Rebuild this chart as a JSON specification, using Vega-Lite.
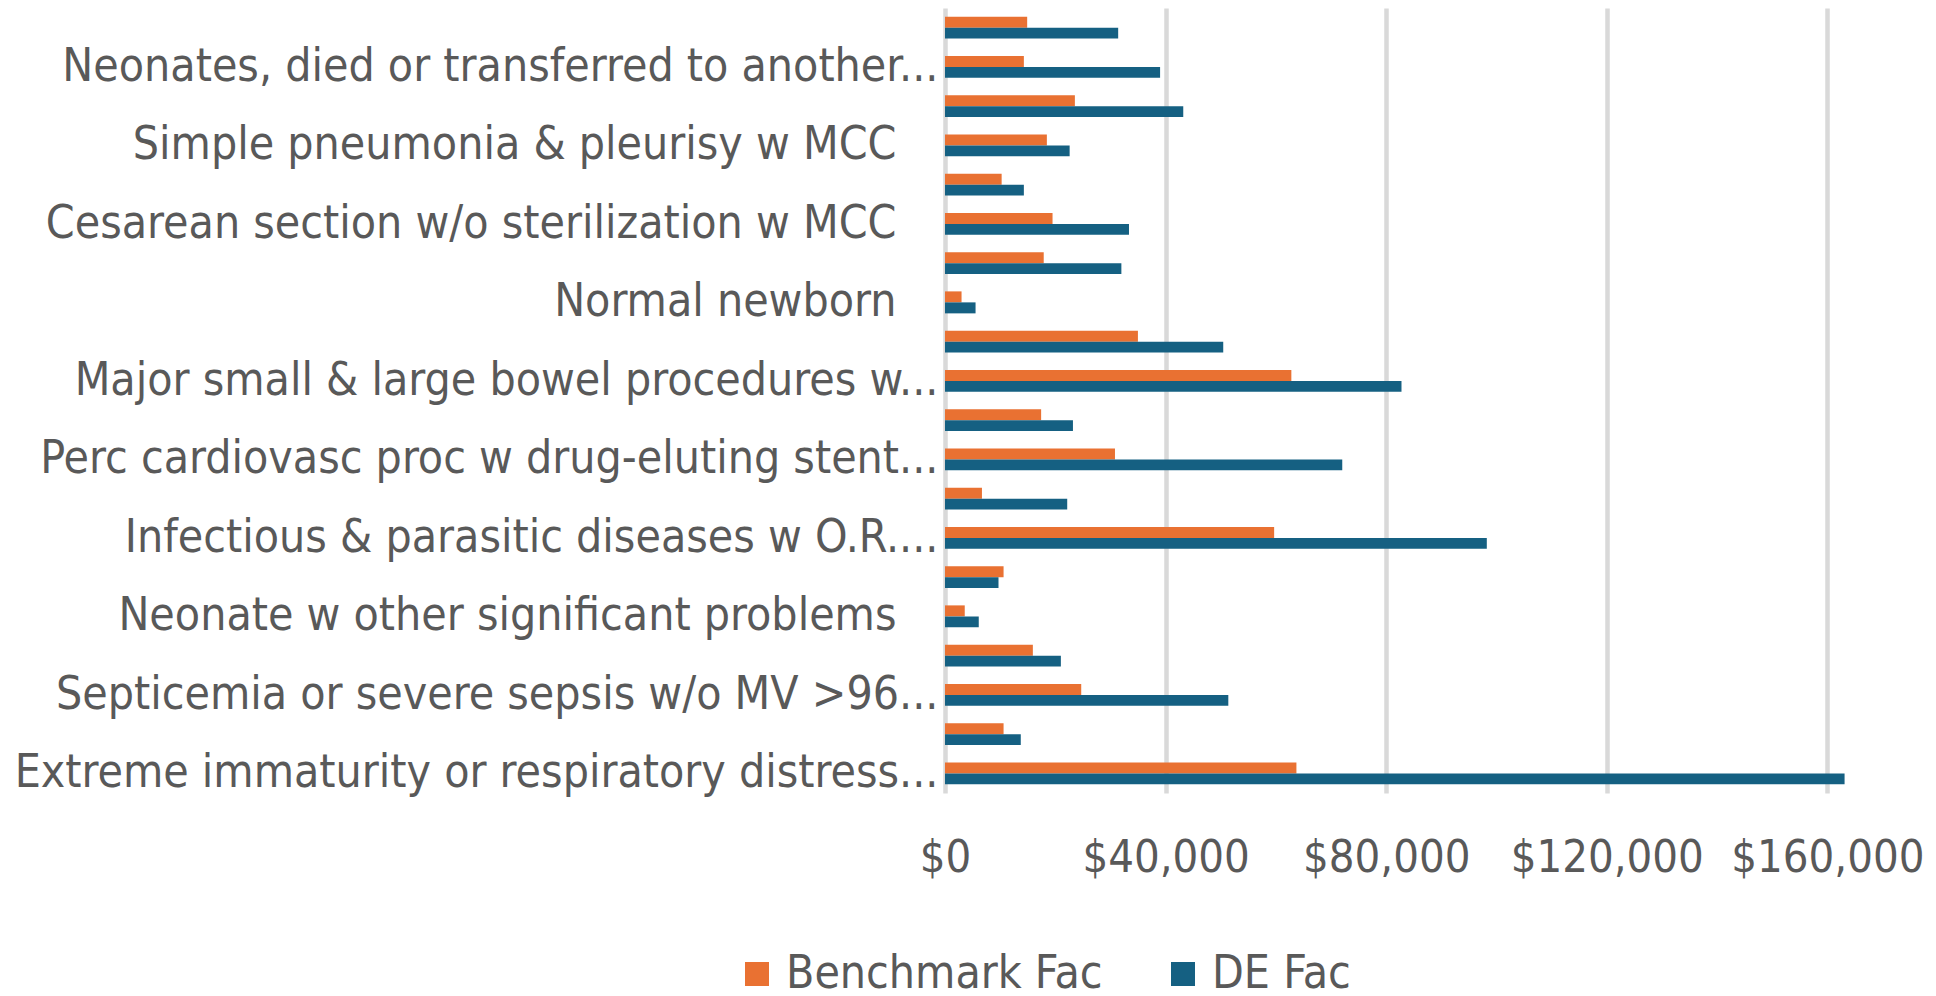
{
  "$schema": "https://vega.github.io/schema/vega-lite/v6.json",
  "width": 910,
  "height": 785,
  "autosize": {"type": "none"},
  "padding": {"left": 945, "top": 8, "right": 81, "bottom": 203},
  "background": "white",
  "config": {"view": {"stroke": null}, "font": "DejaVu Sans Condensed"},
  "data": {"values": [
    {"drg": "Unlabeled DRG 1", "series": "Benchmark Fac", "value": 14900},
    {"drg": "Unlabeled DRG 1", "series": "DE Fac", "value": 31400},
    {"drg": "Neonates, died or transferred to another...", "series": "Benchmark Fac", "value": 14300},
    {"drg": "Neonates, died or transferred to another...", "series": "DE Fac", "value": 39000},
    {"drg": "Unlabeled DRG 2", "series": "Benchmark Fac", "value": 23550},
    {"drg": "Unlabeled DRG 2", "series": "DE Fac", "value": 43200},
    {"drg": "Simple pneumonia & pleurisy w MCC", "series": "Benchmark Fac", "value": 18470},
    {"drg": "Simple pneumonia & pleurisy w MCC", "series": "DE Fac", "value": 22600},
    {"drg": "Unlabeled DRG 3", "series": "Benchmark Fac", "value": 10270},
    {"drg": "Unlabeled DRG 3", "series": "DE Fac", "value": 14300},
    {"drg": "Cesarean section w/o sterilization w MCC", "series": "Benchmark Fac", "value": 19500},
    {"drg": "Cesarean section w/o sterilization w MCC", "series": "DE Fac", "value": 33360},
    {"drg": "Unlabeled DRG 4", "series": "Benchmark Fac", "value": 17900},
    {"drg": "Unlabeled DRG 4", "series": "DE Fac", "value": 31980},
    {"drg": "Normal newborn", "series": "Benchmark Fac", "value": 3000},
    {"drg": "Normal newborn", "series": "DE Fac", "value": 5540},
    {"drg": "Unlabeled DRG 5", "series": "Benchmark Fac", "value": 34980},
    {"drg": "Unlabeled DRG 5", "series": "DE Fac", "value": 50450},
    {"drg": "Major small & large bowel procedures w...", "series": "Benchmark Fac", "value": 62800},
    {"drg": "Major small & large bowel procedures w...", "series": "DE Fac", "value": 82770},
    {"drg": "Unlabeled DRG 6", "series": "Benchmark Fac", "value": 17430},
    {"drg": "Unlabeled DRG 6", "series": "DE Fac", "value": 23200},
    {"drg": "Perc cardiovasc proc w drug-eluting stent...", "series": "Benchmark Fac", "value": 30820},
    {"drg": "Perc cardiovasc proc w drug-eluting stent...", "series": "DE Fac", "value": 72030},
    {"drg": "Unlabeled DRG 7", "series": "Benchmark Fac", "value": 6700},
    {"drg": "Unlabeled DRG 7", "series": "DE Fac", "value": 22160},
    {"drg": "Infectious & parasitic diseases w O.R....", "series": "Benchmark Fac", "value": 59680},
    {"drg": "Infectious & parasitic diseases w O.R....", "series": "DE Fac", "value": 98240},
    {"drg": "Unlabeled DRG 8", "series": "Benchmark Fac", "value": 10620},
    {"drg": "Unlabeled DRG 8", "series": "DE Fac", "value": 9700},
    {"drg": "Neonate w other significant problems", "series": "Benchmark Fac", "value": 3580},
    {"drg": "Neonate w other significant problems", "series": "DE Fac", "value": 6120},
    {"drg": "Unlabeled DRG 9", "series": "Benchmark Fac", "value": 15930},
    {"drg": "Unlabeled DRG 9", "series": "DE Fac", "value": 21010},
    {"drg": "Septicemia or severe sepsis w/o MV >96...", "series": "Benchmark Fac", "value": 24700},
    {"drg": "Septicemia or severe sepsis w/o MV >96...", "series": "DE Fac", "value": 51370},
    {"drg": "Unlabeled DRG 10", "series": "Benchmark Fac", "value": 10620},
    {"drg": "Unlabeled DRG 10", "series": "DE Fac", "value": 13740},
    {"drg": "Extreme immaturity or respiratory distress...", "series": "Benchmark Fac", "value": 63720},
    {"drg": "Extreme immaturity or respiratory distress...", "series": "DE Fac", "value": 163110}
  ]},
  "mark": {"type": "bar"},
  "encoding": {
    "y": {
      "field": "drg", "type": "nominal", "sort": null,
      "scale": {"paddingInner": 0.44, "paddingOuter": 0.22},
      "axis": {
        "title": null, "ticks": false, "domain": false,
        "labelFontSize": 46, "labelColor": "#595959", "labelLimit": 0,
        "labelPadding": {"condition": {"test": "indexof(datum.value, '...') > 0", "value": 7}, "value": 49},
        "labelExpr": "indexof(datum.value, 'Unlabeled') === 0 ? '' : datum.value"
      }
    },
    "yOffset": {"field": "series", "sort": ["Benchmark Fac", "DE Fac"]},
    "x": {
      "field": "value", "type": "quantitative",
      "scale": {"domain": [0, 165000], "nice": false},
      "axis": {
        "title": null, "values": [0, 40000, 80000, 120000, 160000], "format": "$,.0f",
        "grid": true, "gridColor": "#d9d9d9", "gridWidth": 4.5,
        "domain": false, "ticks": false, "labelFlush": false, "labelLimit": 0,
        "labelFontSize": 45, "labelColor": "#595959", "labelPadding": 42
      }
    },
    "color": {
      "field": "series", "type": "nominal",
      "scale": {"domain": ["Benchmark Fac", "DE Fac"], "range": ["#E97132", "#156082"]},
      "legend": {
        "title": null, "orient": "none", "direction": "horizontal",
        "legendX": -211, "legendY": 943,
        "symbolType": "square", "symbolSize": 576, "symbolOpacity": 1, "symbolStrokeWidth": 0,
        "labelOffset": 6, "labelLimit": 0, "labelFontSize": 46, "labelColor": "#595959", "columnPadding": 57
      }
    }
  }
}
